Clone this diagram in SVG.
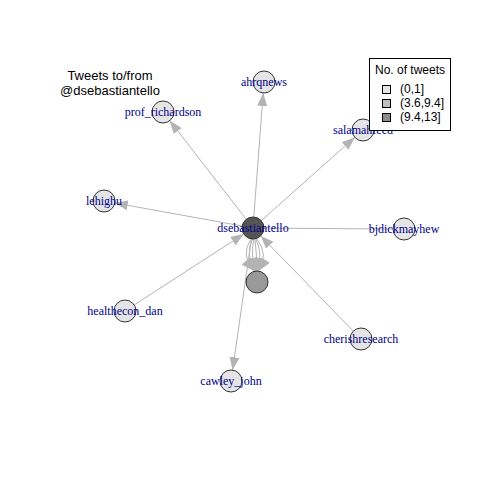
<svg xmlns="http://www.w3.org/2000/svg" width="480" height="480" viewBox="0 0 480 480">
<defs>
<marker id="arr" markerUnits="userSpaceOnUse" markerWidth="14" markerHeight="10" refX="13" refY="5" orient="auto">
<path d="M0,0 L13,5 L0,10 Z" fill="#B3B3B3"/>
</marker>
</defs>
<style>
.e{stroke:#B3B3B3;stroke-width:1;fill:none}
.n{stroke:#333;stroke-width:1;fill:#E5E5E5}
.l{font-family:"Liberation Serif",serif;font-size:12px;fill:#00008B;text-anchor:middle}
.t{font-family:"Liberation Sans",sans-serif;font-size:13px;fill:#000;text-anchor:middle}
.g{font-family:"Liberation Sans",sans-serif;font-size:12px;fill:#000}
</style>
<rect width="480" height="480" fill="#fff"/>
<g id="edges">
<line class="e" x1="253.8" y1="217" x2="263.2" y2="93" marker-end="url(#arr)"/>
<line class="e" x1="246.3" y1="219.3" x2="169.7" y2="120.7" marker-end="url(#arr)"/>
<line class="e" x1="261.2" y1="220.7" x2="354.8" y2="137.3" marker-end="url(#arr)"/>
<line class="e" x1="242.2" y1="226" x2="114.8" y2="203" marker-end="url(#arr)"/>
<line class="e" x1="264" y1="228.1" x2="393" y2="229"/>
<line class="e" x1="134.2" y1="305" x2="243.8" y2="234" marker-end="url(#arr)"/>
<line class="e" x1="353.3" y1="331.1" x2="260.7" y2="235.9" marker-end="url(#arr)"/>
<line class="e" x1="251.4" y1="238.9" x2="232.6" y2="370.1" marker-end="url(#arr)"/>
<path class="e" d="M251,239 Q240,255 254,271" marker-end="url(#arr)"/>
<path class="e" d="M252.5,239 Q245,255 255,271" marker-end="url(#arr)"/>
<path class="e" d="M254,239 Q250,255 256,271" marker-end="url(#arr)"/>
<path class="e" d="M255,239 Q257,255 256.5,271" marker-end="url(#arr)"/>
<path class="e" d="M256,239 Q263,255 257.5,271" marker-end="url(#arr)"/>
<path class="e" d="M257,239 Q269,255 258.5,271" marker-end="url(#arr)"/>
</g>
<g id="ahrqnews"><circle class="n" cx="264" cy="82" r="11"/><text class="l" x="264" y="86">ahrqnews</text></g>
<g id="prof_richardson"><circle class="n" cx="163" cy="112" r="11"/><text class="l" x="163" y="116">prof_richardson</text></g>
<g id="salamahfeed"><circle class="n" cx="363" cy="130" r="11"/><text class="l" x="363" y="134">salamahfeed</text></g>
<g id="lehighu"><circle class="n" cx="104" cy="201" r="11"/><text class="l" x="104" y="205">lehighu</text></g>
<g id="bjdickmayhew"><circle class="n" cx="404" cy="229" r="11"/><text class="l" x="404" y="233">bjdickmayhew</text></g>
<g id="healthecon_dan"><circle class="n" cx="125" cy="311" r="11"/><text class="l" x="125" y="315">healthecon_dan</text></g>
<g id="cherishresearch"><circle class="n" cx="361" cy="339" r="11"/><text class="l" x="361" y="343">cherishresearch</text></g>
<g id="cawley_john"><circle class="n" cx="231" cy="381" r="11"/><text class="l" x="231" y="385">cawley_john</text></g>
<g id="mid"><circle class="n" cx="257" cy="282" r="11" style="fill:#999999"/></g>
<g id="dsebastiantello"><circle class="n" cx="253" cy="228" r="11" style="fill:#555555"/><text class="l" x="253" y="232">dsebastiantello</text></g>
<g id="title"><text class="t" x="110" y="80">Tweets to/from</text><text class="t" x="110" y="95">@dsebastiantello</text></g>
<g id="legend">
<rect x="369.5" y="58.5" width="81" height="72" fill="#fff" stroke="#000"/>
<text class="g" x="375" y="74">No. of tweets</text>
<rect x="382.5" y="85.5" width="8" height="8" fill="#E5E5E5" stroke="#000"/>
<rect x="382.5" y="99.5" width="8" height="8" fill="#BFBFBF" stroke="#000"/>
<rect x="382.5" y="113.5" width="8" height="8" fill="#8C8C8C" stroke="#000"/>
<text class="g" x="400" y="93">(0,1]</text>
<text class="g" x="400" y="107">(3.6,9.4]</text>
<text class="g" x="400" y="121">(9.4,13]</text>
</g>
</svg>
